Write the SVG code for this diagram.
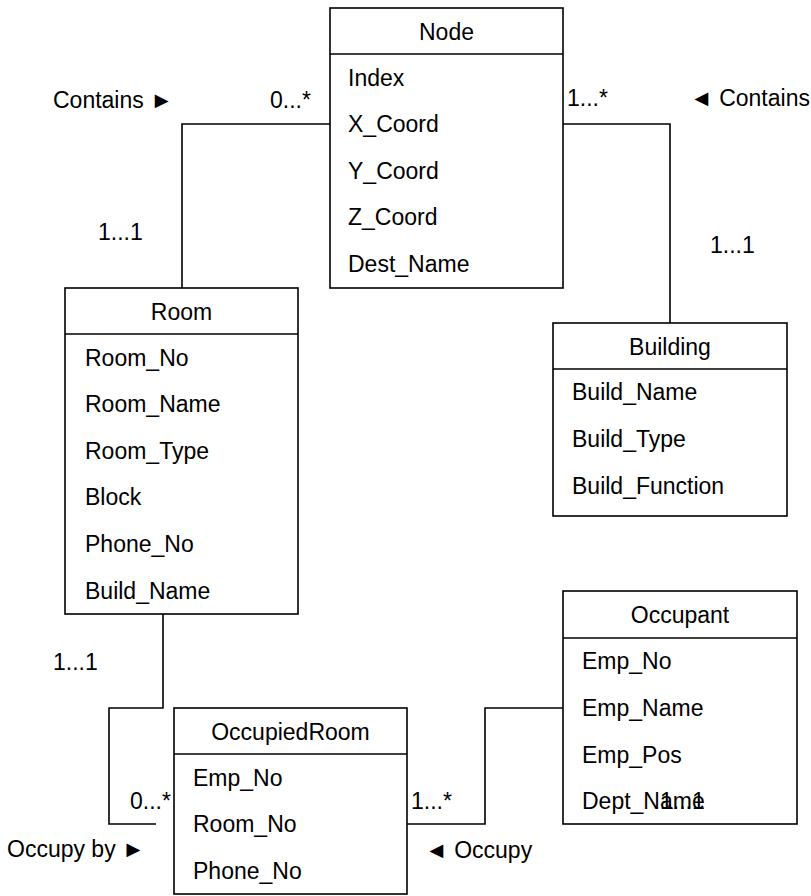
<svg xmlns="http://www.w3.org/2000/svg" width="811" height="896" viewBox="0 0 811 896">
<style>
text{font-family:"Liberation Sans","DejaVu Sans",Arial,sans-serif;font-size:23px;fill:#000}
.box{fill:#fff;stroke:#000;stroke-width:1.6}
.sep{stroke:#000;stroke-width:1.6}
.c{fill:none;stroke:#000;stroke-width:1.6}
.t{text-anchor:middle}
</style>
<rect width="811" height="896" fill="#fff"/>
<g id="connectors">
<polyline class="c" points="330,124 182,124 182,288"/>
<polyline class="c" points="563,124 670,124 670,323"/>
<polyline class="c" points="163,614 163,708 109,708 109,824 156,824"/>
<polyline class="c" points="407,824 485,824 485,708 563,708"/>
</g>
<g id="node-Node">
<rect class="box" x="330" y="8" width="233" height="280"/>
<line class="sep" x1="330" y1="54" x2="563" y2="54"/>
<text class="t" x="446.5" y="40">Node</text>
<text x="348" y="86">Index</text>
<text x="348" y="132">X_Coord</text>
<text x="348" y="179">Y_Coord</text>
<text x="348" y="225">Z_Coord</text>
<text x="348" y="272">Dest_Name</text>
</g>
<g id="node-Room">
<rect class="box" x="65" y="288" width="233" height="326"/>
<line class="sep" x1="65" y1="334" x2="298" y2="334"/>
<text class="t" x="181.5" y="320">Room</text>
<text x="85" y="366">Room_No</text>
<text x="85" y="412">Room_Name</text>
<text x="85" y="459">Room_Type</text>
<text x="85" y="505">Block</text>
<text x="85" y="552">Phone_No</text>
<text x="85" y="599">Build_Name</text>
</g>
<g id="node-Building">
<rect class="box" x="553" y="323" width="234" height="193"/>
<line class="sep" x1="553" y1="369" x2="787" y2="369"/>
<text class="t" x="670" y="355">Building</text>
<text x="572" y="400">Build_Name</text>
<text x="572" y="447">Build_Type</text>
<text x="572" y="494">Build_Function</text>
</g>
<g id="node-Occupant">
<rect class="box" x="563" y="591" width="234" height="233"/>
<line class="sep" x1="563" y1="638" x2="797" y2="638"/>
<text class="t" x="680" y="623">Occupant</text>
<text x="582" y="669">Emp_No</text>
<text x="582" y="716">Emp_Name</text>
<text x="582" y="763">Emp_Pos</text>
<text x="582" y="809">Dept_Name</text>
</g>
<g id="node-OccupiedRoom">
<rect class="box" x="174" y="708" width="233" height="186"/>
<line class="sep" x1="174" y1="754" x2="407" y2="754"/>
<text class="t" x="290.5" y="740">OccupiedRoom</text>
<text x="193" y="786">Emp_No</text>
<text x="193" y="832">Room_No</text>
<text x="193" y="879">Phone_No</text>
</g>
<g id="labels">
<text x="53" y="108">Contains ►</text>
<text x="270" y="108">0...*</text>
<text x="98" y="240">1...1</text>
<text x="567" y="106">1...*</text>
<text x="690" y="106">◄ Contains</text>
<text x="710" y="253">1...1</text>
<text x="53" y="670">1...1</text>
<text x="130" y="809">0...*</text>
<text x="7" y="857">Occupy by ►</text>
<text x="411" y="809">1...*</text>
<text x="425" y="858">◄ Occupy</text>
<text x="660" y="809">1...1</text>
</g>
</svg>
